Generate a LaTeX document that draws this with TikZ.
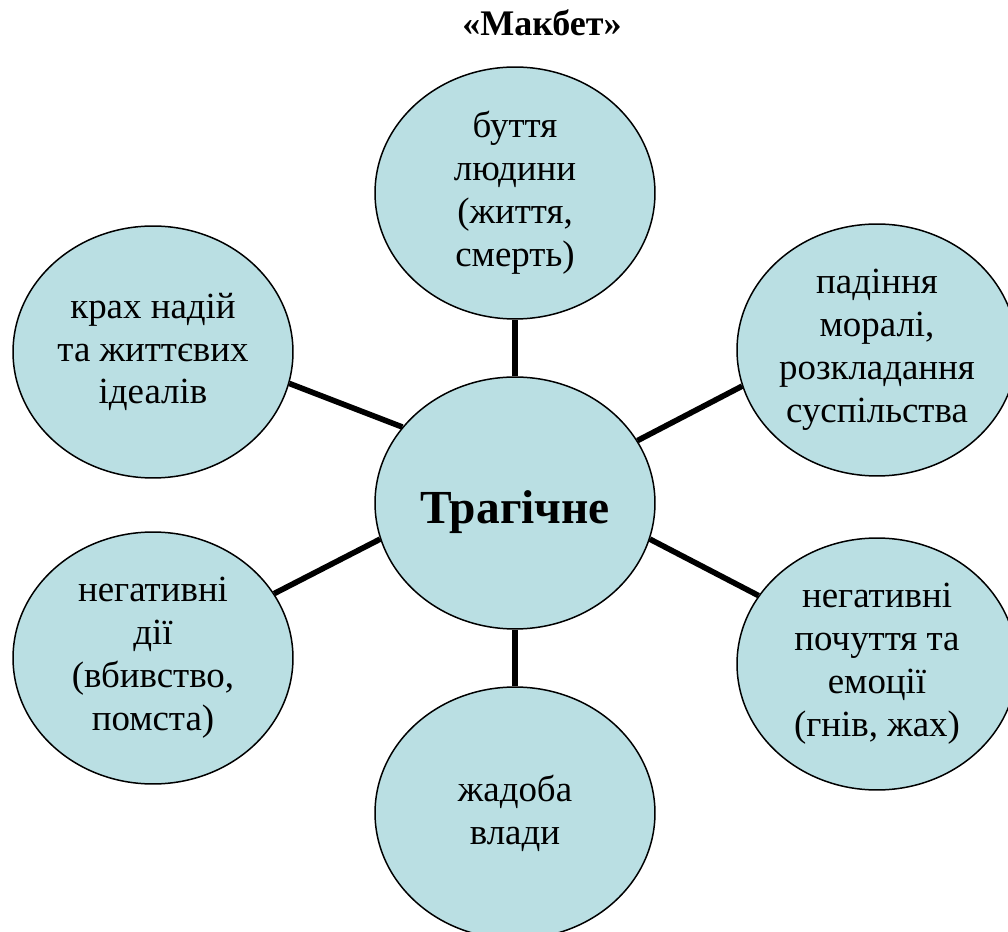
\documentclass[tikz,border=0pt]{standalone}
\usepackage{fontspec}
\setmainfont{Liberation Serif}
\usetikzlibrary{shapes.geometric}
\definecolor{bubble}{RGB}{186,223,227}
\begin{document}
\begin{tikzpicture}[x=0.02cm,y=-0.02cm,
  bub/.style={ellipse, draw=black, line width=0.85pt, fill=bubble,
    minimum width=5.6cm, minimum height=5.04cm, inner sep=0pt,
    align=center, font=\fontsize{21}{24.4}\selectfont},
  link/.style={line width=3.2pt, black},
  titlestyle/.style={font=\bfseries\fontsize{20.5}{24}\selectfont, inner sep=0pt, anchor=base}]
\useasboundingbox (0,0) rectangle (1008,932);
\clip (0,0) rectangle (1008,932);
\node[titlestyle] (title) at (542,36) {«Макбет»};
\node[bub, font=\bfseries\fontsize{27}{32}\selectfont] (c) at (515,503) {\raisebox{-11.9pt}[0pt][0pt]{Трагічне}};
\node[bub] (t) at (515,193) {буття\\людини\\(життя,\\смерть)};
\node[bub] (lt) at (153,352) {крах надій\\та життєвих\\ідеалів};
\node[bub] (rt) at (877,350) {падіння\\моралі,\\розкладання\\суспільства};
\node[bub] (lb) at (153,658) {негативні\\дії\\(вбивство,\\помста)};
\node[bub] (rb) at (877,664) {негативні\\почуття та\\емоції\\(гнів, жах)};
\node[bub] (b) at (515,813) {жадоба\\влади};
\draw[link] (c.90) -- (t.270);
\draw[link] (c.270) -- (b.90);
\draw[link] (c.146) -- (lt.347);
\draw[link] (c.195) -- (lb.28);
\draw[link] (c.27) -- (rt.195);
\draw[link] (c.345) -- (rb.150);
\end{tikzpicture}
\end{document}
